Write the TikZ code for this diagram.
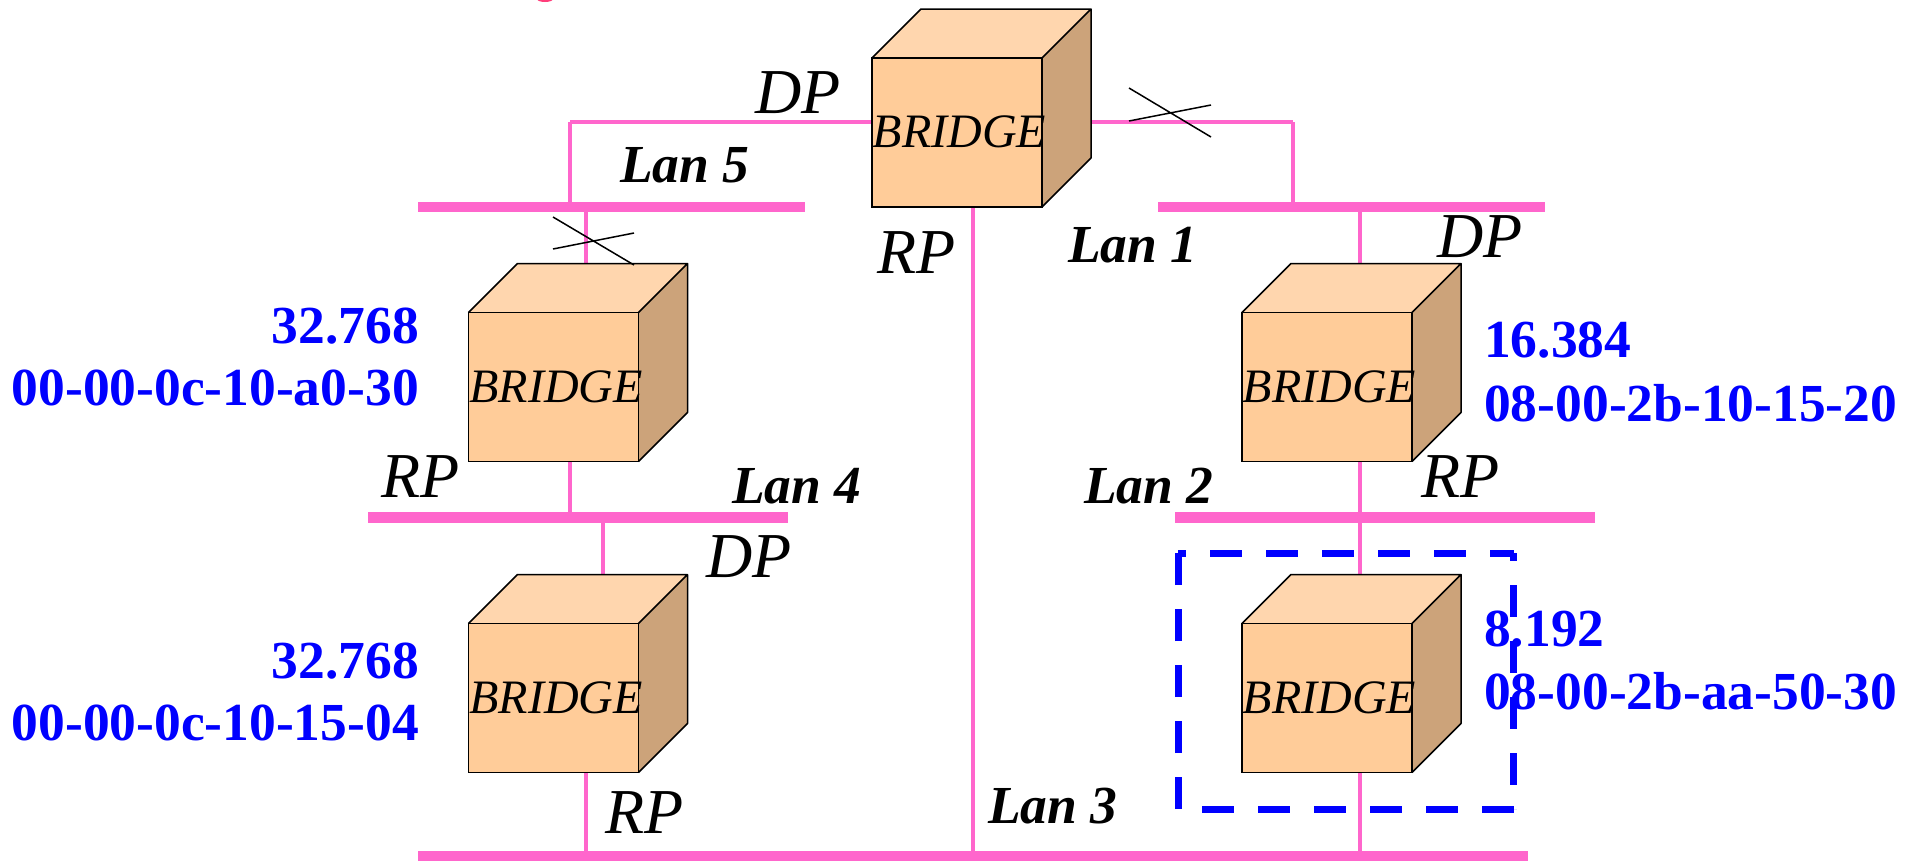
\documentclass[tikz,border=0pt]{standalone}
\usepackage{fontspec}
\setmainfont{Liberation Serif}
\definecolor{lanpink}{HTML}{FF66CC}
\definecolor{cubefront}{HTML}{FFCC99}
\definecolor{cubetop}{HTML}{FFD6AE}
\definecolor{cubeside}{HTML}{CCA37A}
\tikzset{
  lanbar/.style={fill=lanpink,draw=none,inner sep=0pt,minimum height=10.5pt,rectangle},
  wire/.style={draw=lanpink,line width=4pt},
  cubefront/.style={draw=black,line width=1.5pt,fill=cubefront,inner sep=0pt,minimum width=170pt,minimum height=149pt,rectangle},
  cubeface/.style={draw=black,line width=1.5pt,line join=round},
  cross/.style={draw=black,line width=1.5pt},
  port/.style={anchor=base west,inner sep=0pt,font=\fontsize{64}{64}\selectfont\itshape},
  lanlabel/.style={anchor=base west,inner sep=0pt,font=\fontsize{53.5}{53.5}\selectfont\bfseries\itshape},
  addr/.style={anchor=base west,inner sep=0pt,text=blue,font=\fontsize{53.5}{53.5}\selectfont\bfseries},
  addrr/.style={addr,anchor=base east},
  selbox/.style={blue,line width=7pt,dash pattern=on 32pt off 24pt},
}
\newcommand{\bridgecube}[3]{%
  \fill[cubetop] (#2,#3) -- ++(49,-49) -- ++(170,0) -- ++(-49,49) -- cycle;
  \fill[cubeside] (#2+170,#3) -- ++(49,-49) -- ++(0,149) -- ++(-49,49) -- cycle;
  \draw[cubeface] (#2,#3) -- ++(49,-49) -- ++(170,0) -- ++(0,149) -- ++(-49,49) (#2+170,#3) -- ++(49,-49);
  \node[cubefront] (#1) at (#2+85,#3+74.5) {};
  \node[inner sep=0pt,font=\fontsize{48}{48}\selectfont\itshape] (#1text) at (#2+87.5,#3+74) {BRIDGE};
}
\begin{document}
\begin{tikzpicture}[x=1pt,y=-1pt]
\useasboundingbox (0,0) rectangle (1913,860);
% mark cut by the top edge
\begin{scope}
\clip (0,0) rectangle (1913,2);
\fill[lanpink!60!red] (545,-1) ellipse (8 and 3);
\end{scope}
% LAN bars
\node[lanbar,minimum width=387pt] (lan5) at (611.5,207) {};
\node[lanbar,minimum width=387pt] (lan1) at (1351.5,207) {};
\node[lanbar,minimum width=420pt] (lan4) at (578,517.5) {};
\node[lanbar,minimum width=420pt] (lan2) at (1385,517.5) {};
\node[lanbar,minimum width=1110pt] (lan3) at (973,856) {};
% tap points
\coordinate (tA) at (872,122);
\coordinate (tB) at (1091,122);
\coordinate (corA) at (570,122);
\coordinate (corB) at (1293,122);
\coordinate (tC) at (973,207);
\coordinate (tD) at (586,263);
\coordinate (tE) at (1360,263);
\coordinate (tF) at (570,461);
\coordinate (tG) at (603,574);
\coordinate (tH) at (586,772);
\coordinate (tI) at (1360,461);
\coordinate (tJ) at (1360,772);
\coordinate (tK) at (1360,574);
% connectors
\draw[wire] (tA) -- (corA);
\draw[wire] (corA) -- (corA |- lan5.north);
\draw[wire] (tB) -- (corB);
\draw[wire] (corB) -- (corB |- lan1.north);
\draw[wire] (tC) -- (tC |- lan3.north);
\draw[wire] (tD) -- (tD |- lan5.south);
\draw[wire] (tE) -- (tE |- lan1.south);
\draw[wire] (tF) -- (tF |- lan4.north);
\draw[wire] (tG) -- (tG |- lan4.south);
\draw[wire] (tH) -- (tH |- lan3.north);
\draw[wire] (tI) -- (tI |- lan2.north);
\draw[wire] (tK) -- (tK |- lan2.south);
\draw[wire] (tJ) -- (tJ |- lan3.north);
% cubes
\bridgecube{b0}{872}{58}
\bridgecube{b1}{468.5}{312.5}
\bridgecube{b2}{468.5}{623.5}
\bridgecube{b3}{1242}{312.5}
\bridgecube{b4}{1242}{623.5}
% crosses
\draw[cross] (553,217) -- (634,265) (553,249) -- (634,233);
\draw[cross] (1129,88) -- (1211,137) (1129,121) -- (1211,105);
% selection box
\coordinate (sTL) at (1178,553);
\coordinate (sTR) at (1513.5,553);
\coordinate (sBR) at (1513.5,809);
\coordinate (sBL) at (1178,809);
\draw[selbox,dash phase=24pt] (sTL) -- (sTR);
\draw[selbox,dash phase=24pt] (sTR) -- (sBR);
\draw[selbox] (sBR) -- (sBL);
\draw[selbox] (sBL) -- (sTL);
% labels
\node[port] (dp0) at (755,113) {DP};
\node[port] (rp0) at (877,273) {RP};
\node[port] (dp3) at (1437,257) {DP};
\node[port] (rp1) at (381,497) {RP};
\node[port] (dp2) at (706,577) {DP};
\node[port] (rp3) at (1421,497) {RP};
\node[port] (rp2) at (605,833) {RP};
\node[lanlabel] (l5) at (620,182) {Lan 5};
\node[lanlabel] (l1) at (1068,262) {Lan 1};
\node[lanlabel] (l4) at (732,503) {Lan 4};
\node[lanlabel] (l2) at (1084,503) {Lan 2};
\node[lanlabel] (l3) at (988,823) {Lan 3};
\node[addrr] (a1) at (419,343) {32.768};
\node[addrr] (a1b) at (419,405) {00-00-0c-10-a0-30};
\node[addrr] (a2) at (419,678) {32.768};
\node[addrr] (a2b) at (419,740) {00-00-0c-10-15-04};
\node[addr] (a3) at (1484,357) {16.384};
\node[addr] (a3b) at (1484,421) {08-00-2b-10-15-20};
\node[addr] (a4) at (1484,646) {8.192};
\node[addr] (a4b) at (1484,709) {08-00-2b-aa-50-30};
\end{tikzpicture}
\end{document}
